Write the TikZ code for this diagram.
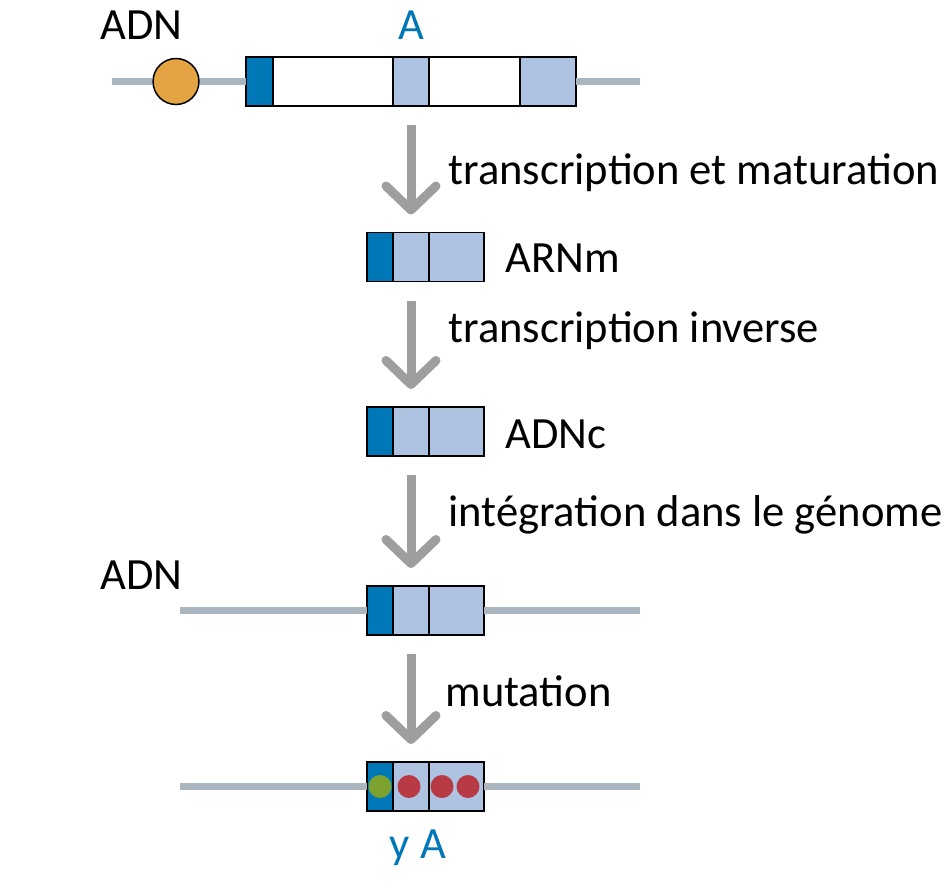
\documentclass[tikz,border=0pt]{standalone}
\usepackage{fontspec}
\setmainfont{Carlito}
\usepackage{tikz}
\usetikzlibrary{arrows.meta}

\definecolor{dkblue}{RGB}{0,119,182}
\definecolor{ltblue}{RGB}{174,195,226}
\definecolor{dnagray}{RGB}{169,182,191}
\definecolor{arrgray}{RGB}{158,158,158}
\definecolor{promo}{RGB}{229,164,67}
\definecolor{mutgreen}{RGB}{124,161,47}
\definecolor{mutred}{RGB}{184,58,69}

\begin{document}
\begin{tikzpicture}[x=0.5pt, y=-0.5pt,
                    seg/.style={draw, line width=0.75pt, rectangle, inner sep=0pt, outer sep=0pt, anchor=west, minimum height=24.5pt},
                    dna/.style={line width=3.25pt, dnagray},
                    flow/.style={line width=4.5pt, arrgray, -{Straight Barb[round, length=12pt, width=25pt]}, shorten <=9.5pt, shorten >=9pt},
                    lbl/.style={anchor=base west, font=\fontsize{22.3}{26}\selectfont, inner sep=0pt},
                    dot/.style={circle, inner sep=0pt, minimum size=11.5pt}]
                \useasboundingbox (0,0) rectangle (943,890);
                \node[circle, draw, line width=0.75pt, fill=promo, minimum size=23pt, inner sep=0pt] (pro) at (176,81.5) {};
                \foreach \n/\x/\w/\c in {1/246/27/dkblue, 2/273/120/white, 3/393/36/ltblue, 4/429/91/white, 5/520/56/ltblue}
                        \node[seg, fill=\c, minimum width=\w*0.5pt] (g\n) at (\x,81.5) {};
                \foreach \row/\y in {m/257, c/431.5, i/610.5, u/786.5}{
                        \foreach \n/\x/\w/\c in {1/367/26/dkblue, 2/393/36/ltblue, 3/429/55/ltblue}
                                \node[seg, fill=\c, minimum width=\w*0.5pt] (\row\n) at (\x,\y) {};
                    }
                \coordinate (l1) at (112,81.5);
                \coordinate (r1) at (640,81.5);
                \coordinate (l4) at (180,610.5);
                \coordinate (r4) at (640,610.5);
                \coordinate (l5) at (180,786.5);
                \coordinate (r5) at (640,786.5);
                \draw[dna] (l1) -- (pro) (pro) -- (g1) (g5) -- (r1);
                \draw[dna] (l4) -- (i1) (i3) -- (r4);
                \draw[dna] (l5) -- (u1) (u3) -- (r5);
                \node[dot, fill=mutgreen] (d1) at (380,786.5) {};
                \foreach \n/\x in {2/409, 3/442, 4/468}
                        \node[dot, fill=mutred] (d\n) at (\x,786.5) {};
                \draw[flow] (g3.south) -- (m2.north);
                \draw[flow] (m2.south) -- (c2.north);
                \draw[flow] (c2.south) -- (i2.north);
                \draw[flow] (i2.south) -- (u2.north);
                \node[lbl] (adn1) at (100,39) {ADN};
                \node[lbl, anchor=base, dkblue] (gA) at (411,39) {A};
                \node[lbl] (t1) at (448,184) {transcription et maturation};
                \node[lbl] (arn) at (505,272) {ARNm};
                \node[lbl] (t2) at (448,342) {transcription inverse};
                \node[lbl] (adnc) at (505,448) {ADNc};
                \node[lbl] (t3) at (448,526) {intégration dans le génome};
                \node[lbl] (adn2) at (100,589) {ADN};
                \node[lbl] (t4) at (445,706) {mutation};
                \node[lbl, anchor=base, dkblue] (gyA) at (418,858) {y A};
            \end{tikzpicture}
\end{document}
